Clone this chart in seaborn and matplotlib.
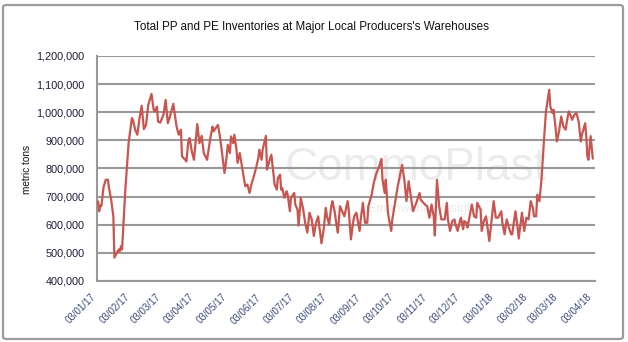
import numpy as np
import pandas as pd
import matplotlib
matplotlib.use("Agg")
import matplotlib.pyplot as plt
import matplotlib.dates as mdates
from matplotlib.ticker import FuncFormatter
from matplotlib.patches import FancyBboxPatch
import seaborn as sns

# ---- data ----
start_date = "2017-01-03"
day_offsets = [
    0, 1, 2, 3, 5, 7, 9, 10, 12, 14, 15, 17, 19, 20, 21, 22, 25, 28, 31, 32,
    34, 36, 38, 40, 42, 44, 46, 49, 51, 52, 54, 55, 57, 60, 62, 64, 66, 69, 72, 74,
    76, 77, 80, 81, 83, 84, 86, 88, 91, 93, 95, 97, 100, 103, 105, 106, 108, 110, 112, 113,
    116, 118, 119, 121, 122, 124, 125, 127, 128, 130, 132, 135, 137, 139, 141, 142, 145, 147, 148, 150,
    151, 154, 155, 157, 159, 160, 162, 164, 165, 167, 168, 169, 171, 173, 174, 176, 177, 180, 181, 183,
    184, 186, 188, 190, 192, 194, 196, 198, 200, 202, 203, 205, 207, 209, 210, 212, 214, 215, 217, 219,
    220, 222, 224, 226, 229, 230, 232, 234, 235, 237, 240, 241, 243, 245, 247, 248, 251, 253, 255, 258,
    260, 261, 263, 264, 266, 267, 269, 270, 275, 279, 281, 283, 285, 287, 289, 292, 295, 296, 300, 302,
    304, 306, 308, 309, 311, 313, 315, 318, 320, 321, 323, 325, 327, 328, 330, 332, 333, 335, 336, 338,
    339, 341, 343, 345, 347, 348, 351, 352, 354, 356, 359, 363, 365, 367, 370, 371, 373, 375, 377, 379,
    380, 383, 385, 386, 389, 391, 393, 395, 397, 399, 400, 402, 403, 405, 407, 409, 411, 414, 415, 417,
    418, 420, 421, 423, 425, 427, 429, 431, 432, 434, 435, 437, 439, 441, 443, 444, 447, 448, 449, 450,
    452, 454,
]
inventory_kt = [
    683, 648, 668, 666, 734, 760, 760, 731, 689, 630, 483, 500, 512, 506, 524, 512, 725, 890, 979, 973,
    938, 920, 979, 1023, 940, 955, 1026, 1065, 1009, 1003, 1020, 967, 963, 991, 1044, 961, 985, 1030, 949, 920,
    938, 843, 831, 825, 902, 908, 861, 831, 958, 890, 916, 855, 831, 908, 949, 932, 944, 955, 908, 878,
    784, 843, 884, 855, 914, 890, 920, 867, 820, 855, 807, 737, 743, 713, 749, 760, 802, 837, 867, 831,
    867, 916, 796, 825, 849, 813, 743, 725, 766, 778, 725, 731, 696, 719, 707, 648, 696, 713, 672, 654,
    597, 695, 660, 607, 572, 643, 619, 560, 607, 630, 595, 534, 584, 660, 630, 601, 666, 684, 648, 595,
    572, 666, 648, 630, 684, 654, 548, 607, 630, 643, 578, 619, 678, 607, 607, 666, 707, 749, 778, 808,
    834, 760, 713, 760, 643, 619, 578, 619, 737, 813, 760, 684, 755, 701, 648, 678, 713, 689, 672, 666,
    625, 672, 630, 562, 760, 666, 619, 619, 678, 619, 578, 613, 619, 601, 578, 613, 625, 584, 613, 607,
    590, 630, 672, 630, 625, 678, 654, 578, 613, 630, 542, 684, 625, 625, 648, 607, 566, 619, 590, 566,
    566, 648, 590, 551, 643, 578, 625, 619, 684, 660, 630, 630, 707, 684, 766, 890, 1003, 1080, 1020, 997,
    1009, 938, 896, 932, 985, 949, 938, 985, 1003, 985, 973, 991, 997, 967, 896, 920, 961, 914, 843, 831,
    915, 835,
]
month_ticks = ["2017-01-03", "2017-02-03", "2017-03-03", "2017-04-03", "2017-05-03",
               "2017-06-03", "2017-07-03", "2017-08-03", "2017-09-03", "2017-10-03",
               "2017-11-03", "2017-12-03", "2018-01-03", "2018-02-03", "2018-03-03",
               "2018-04-03"]
y_ticks = [400000, 500000, 600000, 700000, 800000, 900000, 1000000, 1100000, 1200000]

title = "Total PP and PE Inventories at Major Local Producers's Warehouses"
y_label = "metric tons"

df = pd.DataFrame({
    "date": pd.to_datetime(start_date) + pd.to_timedelta(day_offsets, unit="D"),
    "tons": np.array(inventory_kt) * 1000,
})

sns.set_theme(style="white")
plt.rcParams["font.family"] = ["Liberation Sans", "DejaVu Sans"]

fig = plt.figure(figsize=(6.28, 3.42), dpi=100)
ax = fig.add_axes([97 / 628, 1 - 281 / 342, (595 - 97) / 628, (281 - 56) / 342])

# outer frame
frame = FancyBboxPatch((3 / 628, 3 / 342), 620 / 628, 334 / 342,
                       boxstyle="round,pad=0,rounding_size=0.006",
                       transform=fig.transFigure, fill=False,
                       edgecolor="#9c9c9c", linewidth=1.6)
fig.patches.append(frame)

# faint watermark
ax.text(0.64, 0.50, "CommoPlast", transform=ax.transAxes, ha="center", va="center",
        fontsize=33, color="#eaecec", zorder=0)
ax.text(0.66, 0.32, "Empowering insights", transform=ax.transAxes, ha="center", va="center",
        fontsize=9, color="#eaecec", zorder=0)

sns.lineplot(data=df, x="date", y="tons", ax=ax, color="#C8554F", linewidth=1.6, zorder=3)

ax.set_ylim(400000, 1200000)
ax.set_xlim(pd.Timestamp(start_date) - pd.Timedelta(days=1), pd.Timestamp("2018-04-04"))
ax.set_yticks(y_ticks)
ax.yaxis.set_major_formatter(FuncFormatter(lambda v, p: f"{int(v):,}"))
ax.set_xticks(pd.to_datetime(month_ticks))
ax.xaxis.set_major_formatter(mdates.DateFormatter("%d/%m/%y"))

ax.grid(axis="y", color="#999999", linewidth=1.5)
ax.grid(axis="x", visible=False)
for s in ["top", "right"]:
    ax.spines[s].set_visible(False)
for s in ["left", "bottom"]:
    ax.spines[s].set_color("#999999")
    ax.spines[s].set_linewidth(1.5)
ax.set_axisbelow(True)

ax.tick_params(axis="y", length=0, pad=9, labelsize=7.8, labelcolor="#1c1c3c")
ax.tick_params(axis="x", length=0, pad=8, labelsize=7, labelcolor="#3c4a78")
for lab in ax.get_xticklabels():
    lab.set_rotation(45)
    lab.set_ha("right")
    lab.set_va("top")

ax.set_xlabel("")
ax.set_ylabel(y_label, fontsize=7.2, color="#111111")
ax.yaxis.set_label_coords((32 - 97) / 498, (281 - 169.5) / 225)
fig.text(311 / 628, 1 - 27 / 342, title, ha="center", va="center", fontsize=8.4, color="#111111")

fig.savefig("out.png", dpi=100)
